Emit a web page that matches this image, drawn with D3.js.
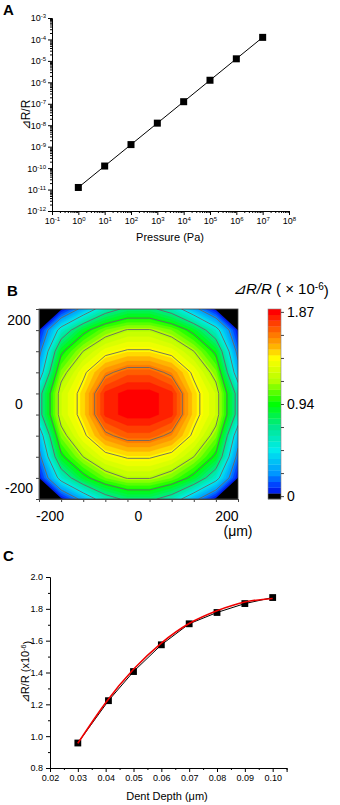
<!DOCTYPE html>
<html><head><meta charset="utf-8">
<script src="https://cdn.jsdelivr.net/npm/d3@7"></script>
<style>
body{margin:0;background:#fff;}
svg{display:block;font-family:"Liberation Sans",Arial,sans-serif;}
</style></head><body>
<svg id="c" width="340" height="805"></svg>
<script>
// ---------- Panel A data ----------
const pressures = [1e0, 1e1, 1e2, 1e3, 1e4, 1e5, 1e6, 1e7];
const deltaRA = [1.25e-11, 1.25e-10, 1.25e-9, 1.25e-8, 1.25e-7, 1.25e-6, 1.25e-5, 1.25e-4];
const aXExponents = [-1, 0, 1, 2, 3, 4, 5, 6, 7, 8];
const aYExponents = [-12, -11, -10, -9, -8, -7, -6, -5, -4, -3];

// ---------- Panel B data (ΔR/R ×10^-6 on a 50 µm grid) ----------
const gridX = [-225, -175, -125, -75, -25, 25, 75, 125, 175, 225];
const gridY = [225, 175, 125, 75, 25, -25, -75, -125, -175, -225];
const dRrow1  = [-0.40, 0.00, 0.30, 0.60, 0.75, 0.75, 0.60, 0.30, 0.00, -0.40];
const dRrow2  = [0.02, 0.55, 0.88, 1.08, 1.18, 1.18, 1.08, 0.88, 0.55, 0.02];
const dRrow3  = [0.17, 0.90, 1.17, 1.35, 1.42, 1.42, 1.35, 1.17, 0.90, 0.17];
const dRrow4  = [0.33, 1.10, 1.37, 1.60, 1.70, 1.70, 1.60, 1.37, 1.10, 0.33];
const dRrow5  = [0.62, 1.25, 1.46, 1.80, 1.87, 1.87, 1.80, 1.46, 1.25, 0.62];
const dRrow6  = [0.62, 1.25, 1.46, 1.80, 1.87, 1.87, 1.80, 1.46, 1.25, 0.62];
const dRrow7  = [0.33, 1.10, 1.37, 1.60, 1.70, 1.70, 1.60, 1.37, 1.10, 0.33];
const dRrow8  = [0.17, 0.90, 1.17, 1.35, 1.42, 1.42, 1.35, 1.17, 0.90, 0.17];
const dRrow9  = [0.02, 0.55, 0.88, 1.08, 1.18, 1.18, 1.08, 0.88, 0.55, 0.02];
const dRrow10 = [-0.40, 0.00, 0.30, 0.60, 0.75, 0.75, 0.60, 0.30, 0.00, -0.40];
const bTicks = [-200, 0, 200];
const bMinorTicks = [-225, -175, -125, -75, -25, 25, 75, 125, 175, 225];
const cbLabels = [0, 0.94, 1.87];
const cbMax = 1.87;
const colorStopsV = [0, 0.12, 0.23, 0.47, 0.70, 0.94, 1.17, 1.40, 1.52, 1.64, 1.76, 1.87];
const colorStopsC = ["#0000dc", "#0046ff", "#0096ff", "#00ecec", "#00e890", "#00ff00", "#b4ff00", "#ffff00", "#ffb400", "#ff7800", "#ff3c00", "#ff0000"];

// ---------- Panel C data ----------
const depth = [0.03, 0.041, 0.05, 0.06, 0.07, 0.08, 0.09, 0.10];
const deltaRC = [0.957, 1.223, 1.406, 1.574, 1.706, 1.777, 1.833, 1.871];
const fitDepth = [0.03, 0.04, 0.05, 0.06, 0.07, 0.08, 0.09, 0.10];
const fitValue = [0.955, 1.21, 1.42, 1.585, 1.708, 1.788, 1.843, 1.865];
const cXTicks = [0.02, 0.03, 0.04, 0.05, 0.06, 0.07, 0.08, 0.09, 0.10];
const cYTicks = [0.8, 1.0, 1.2, 1.4, 1.6, 1.8, 2.0];

const svg = d3.select("#c");

function styleAxis(g) {
  g.select(".domain").attr("stroke", "#000").attr("stroke-width", 1);
  g.selectAll(".tick line").attr("stroke", "#000");
}
function sup(textSel, base, exp, supSize) {
  textSel.text("");
  textSel.append("tspan").text(base);
  textSel.append("tspan").attr("dy", "-0.5em").attr("font-size", supSize).text(exp);
}

// ================= Panel A =================
svg.append("text").attr("x", 3).attr("y", 15).attr("font-size", 15).attr("font-weight", "bold").text("A");
const xA = d3.scaleLog().domain([1e-1, 1e8]).range([52, 289]);
const yA = d3.scaleLog().domain([1e-12, 1e-3]).range([211, 18]);

const minorA_x = [];
for (let e = -1; e < 8; e++) for (let m = 2; m <= 9; m++) minorA_x.push(m * 10 ** e);
const minorA_y = [];
for (let e = -12; e < -3; e++) for (let m = 2; m <= 9; m++) minorA_y.push(m * 10 ** e);

const gxA = svg.append("g").attr("transform", "translate(0,211)")
  .call(d3.axisBottom(xA).tickValues(aXExponents.map(e => 10 ** e)).tickSize(4).tickPadding(3));
styleAxis(gxA);
gxA.selectAll(".tick text").attr("font-size", 9)
  .each(function (d, i) { sup(d3.select(this), "10", String(aXExponents[i]), "6px"); });
const gxAm = svg.append("g").attr("transform", "translate(0,211)")
  .call(d3.axisBottom(xA).tickValues(minorA_x).tickSize(2).tickFormat(""));
gxAm.select(".domain").remove();

const gyA = svg.append("g").attr("transform", "translate(52,0)")
  .call(d3.axisLeft(yA).tickValues(aYExponents.map(e => 10 ** e)).tickSize(4).tickPadding(2));
styleAxis(gyA);
gyA.selectAll(".tick text").attr("font-size", 9)
  .each(function (d, i) { sup(d3.select(this), "10", String(aYExponents[i]), "6px"); });
const gyAm = svg.append("g").attr("transform", "translate(52,0)")
  .call(d3.axisLeft(yA).tickValues(minorA_y).tickSize(2).tickFormat(""));
gyAm.select(".domain").remove();

const lineA = d3.line().x((d, i) => xA(pressures[i])).y(d => yA(d));
svg.append("path").datum(deltaRA).attr("d", lineA).attr("fill", "none").attr("stroke", "#000").attr("stroke-width", 1);
svg.append("g").selectAll("rect").data(deltaRA).join("rect")
  .attr("x", (d, i) => xA(pressures[i]) - 3.5).attr("y", d => yA(d) - 3.5)
  .attr("width", 7).attr("height", 7).attr("fill", "#000");

svg.append("text").attr("x", 170).attr("y", 241).attr("text-anchor", "middle").attr("font-size", 11).text("Pressure (Pa)");
svg.append("text").attr("transform", "translate(30,115) rotate(-90)").attr("text-anchor", "middle").attr("font-size", 12).text("⊿R/R");

// ================= Panel B =================
svg.append("text").attr("x", 7).attr("y", 296).attr("font-size", 15).attr("font-weight", "bold").text("B");
const tB = svg.append("text").attr("x", 233).attr("y", 294).attr("font-size", 15);
tB.append("tspan").attr("font-style", "italic").text("⊿R/R");
tB.append("tspan").text(" ( × 10");
tB.append("tspan").attr("dy", "-0.45em").attr("font-size", 10).text("-6");
tB.append("tspan").attr("dy", "0.45em").text(")");

const xB = d3.scaleLinear().domain([-225, 225]).range([39, 238]);
const yB = d3.scaleLinear().domain([-225, 225]).range([499, 309]);
const nx = gridX.length, ny = gridY.length;
const gridRows = [dRrow1, dRrow2, dRrow3, dRrow4, dRrow5, dRrow6, dRrow7, dRrow8, dRrow9, dRrow10];
const values = gridRows.flat();
const colorB = d3.scaleLinear().domain(colorStopsV).range(colorStopsC);
const nLev = 32, step = cbMax / nLev;
const fillThr = d3.range(1, nLev + 1).map(k => (k - 0.5) * step);
const dxG = gridX[1] - gridX[0], dyG = gridY[0] - gridY[1];
const proj = d3.geoTransform({
  point: function (x, y) {
    this.stream.point(xB(gridX[0] - dxG / 2 + x * dxG), yB(gridY[0] + dyG / 2 - y * dyG));
  }
});
const pathB = d3.geoPath(proj);
svg.append("clipPath").attr("id", "clipB").append("rect")
  .attr("x", 39).attr("y", 309).attr("width", 199).attr("height", 190);
const gB = svg.append("g").attr("clip-path", "url(#clipB)");
gB.append("rect").attr("x", 39).attr("y", 309).attr("width", 199).attr("height", 190).attr("fill", "#000");
const fills = d3.contours().size([nx, ny]).thresholds(fillThr)(values);
gB.selectAll("path.f").data(fills).join("path").attr("class", "f")
  .attr("d", pathB).attr("fill", (d, i) => colorB((i + 1) * step))
  .attr("stroke", (d, i) => colorB((i + 1) * step)).attr("stroke-width", 0.3);
const lineThr = d3.range(1, 8).map(j => j * cbMax / 8);
const lines = d3.contours().size([nx, ny]).thresholds(lineThr)(values);
gB.selectAll("path.l").data(lines).join("path").attr("class", "l")
  .attr("d", pathB).attr("fill", "none").attr("stroke", "#666").attr("stroke-width", 0.9);

// axes
const gxB = svg.append("g").attr("transform", "translate(0,499)")
  .call(d3.axisBottom(xB).tickValues(bMinorTicks).tickSize(3).tickFormat(""));
gxB.select(".domain").attr("stroke", "#444");
gxB.selectAll(".tick line").attr("stroke", "#444");
const gyB = svg.append("g").attr("transform", "translate(39,0)")
  .call(d3.axisLeft(yB).tickValues(bMinorTicks).tickSize(3).tickFormat(""));
gyB.select(".domain").attr("stroke", "#444");
gyB.selectAll(".tick line").attr("stroke", "#444");
svg.append("rect").attr("x", 39).attr("y", 309).attr("width", 199).attr("height", 190)
  .attr("fill", "none").attr("stroke", "#444").attr("stroke-width", 0.8);
svg.append("g").selectAll("text").data(bTicks).join("text")
  .attr("x", d => xB(d)).attr("y", 521).attr("text-anchor", "middle").attr("font-size", 14)
  .text(d => d);
svg.append("g").selectAll("text").data(bTicks).join("text")
  .attr("x", 19).attr("y", d => yB(d) + 5).attr("text-anchor", "middle").attr("font-size", 14)
  .text(d => d);
svg.append("text").attr("x", 238).attr("y", 536).attr("text-anchor", "middle").attr("font-size", 14).text("(μm)");

// colorbar
const cbX = 268, cbW = 13;
const cbScale = d3.scaleLinear().domain([-0.5 * step, cbMax + 0.5 * step]).range([499, 309]);
const bands = d3.range(0, nLev + 1);
svg.append("g").selectAll("rect").data(bands).join("rect")
  .attr("x", cbX).attr("width", cbW)
  .attr("y", k => cbScale((k + 0.5) * step)).attr("height", k => cbScale((k - 0.5) * step) - cbScale((k + 0.5) * step) + 0.3)
  .attr("fill", k => k === 0 ? "#000" : colorB(k * step));
svg.append("rect").attr("x", cbX).attr("y", 309).attr("width", cbW).attr("height", 190)
  .attr("fill", "none").attr("stroke", "#888").attr("stroke-width", 0.6);
const gcb = svg.append("g").attr("transform", `translate(${cbX + cbW},0)`)
  .call(d3.axisRight(cbScale).tickValues(d3.range(0, 9).map(j => j * cbMax / 8)).tickSize(3).tickFormat(""));
gcb.select(".domain").remove();
gcb.selectAll(".tick line").attr("stroke", "#444");
svg.append("g").selectAll("text").data(cbLabels).join("text")
  .attr("x", 287).attr("y", d => cbScale(d) + 5).attr("font-size", 14).text(d => d);

// ================= Panel C =================
svg.append("text").attr("x", 3).attr("y", 561).attr("font-size", 15).attr("font-weight", "bold").text("C");
const xC = d3.scaleLinear().domain([0.02, 0.105]).range([50, 286.6]);
const yC = d3.scaleLinear().domain([0.8, 2.0]).range([768, 577]);
const gxC = svg.append("g").attr("transform", "translate(0,768)")
  .call(d3.axisBottom(xC).tickValues(cXTicks).tickSize(4).tickPadding(3).tickFormat(d3.format(".2f")));
styleAxis(gxC);
gxC.selectAll(".tick text").attr("font-size", 9);
const gxCm = svg.append("g").attr("transform", "translate(0,768)")
  .call(d3.axisBottom(xC).tickValues(cXTicks.map(t => t + 0.005)).tickSize(2).tickFormat(""));
gxCm.select(".domain").remove();
const gyC = svg.append("g").attr("transform", "translate(50,0)")
  .call(d3.axisLeft(yC).tickValues(cYTicks).tickSize(4).tickPadding(3).tickFormat(d3.format(".1f")));
styleAxis(gyC);
gyC.selectAll(".tick text").attr("font-size", 9);
const gyCm = svg.append("g").attr("transform", "translate(50,0)")
  .call(d3.axisLeft(yC).tickValues(cYTicks.slice(0, -1).map(t => t + 0.1)).tickSize(2).tickFormat(""));
gyCm.select(".domain").remove();

const lineC = d3.line().x((d, i) => xC(depth[i])).y(d => yC(d));
svg.append("path").datum(deltaRC).attr("d", lineC).attr("fill", "none").attr("stroke", "#000").attr("stroke-width", 1);
svg.append("g").selectAll("rect").data(deltaRC).join("rect")
  .attr("x", (d, i) => xC(depth[i]) - 3.4).attr("y", d => yC(d) - 3.4)
  .attr("width", 6.8).attr("height", 6.8).attr("fill", "#000");
const fitLine = d3.line().x((d, i) => xC(fitDepth[i])).y(d => yC(d)).curve(d3.curveNatural);
svg.append("path").datum(fitValue).attr("d", fitLine).attr("fill", "none").attr("stroke", "#ee0000").attr("stroke-width", 1.6);

svg.append("text").attr("x", 167).attr("y", 800).attr("text-anchor", "middle").attr("font-size", 11).text("Dent Depth (μm)");
const tyC = svg.append("text").attr("transform", "translate(29,672) rotate(-90)").attr("text-anchor", "middle").attr("font-size", 11);
tyC.append("tspan").text("⊿R/R (x10");
tyC.append("tspan").attr("dy", "-0.5em").attr("font-size", 7).text("-6");
tyC.append("tspan").attr("dy", "0.5em").text(")");
</script>
</body></html>
